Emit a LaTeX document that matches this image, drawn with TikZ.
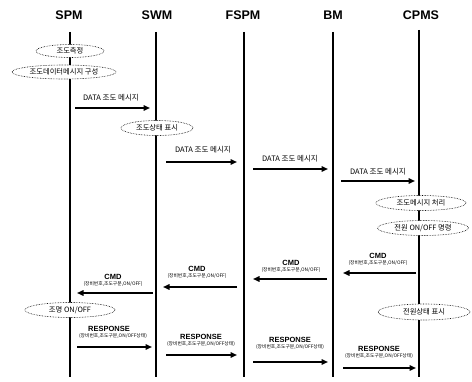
\documentclass[tikz,border=0pt]{standalone}
\usepackage{fontspec}
\setmainfont{Noto Sans CJK KR}
\newfontfamily\hdrfont{Liberation Sans}
\usetikzlibrary{shapes.geometric,arrows.meta}
\begin{document}
\begin{tikzpicture}[x=1pt,y=-1pt,
  hdr/.style={font=\hdrfont\bfseries\fontsize{12.5}{13}\selectfont,inner sep=0pt},
  life/.style={line width=2.3pt},
  evt/.style={ellipse,draw,densely dotted,line width=0.6pt,fill=white,inner sep=0pt,font=\fontsize{7.3}{8}\selectfont},
  msg/.style={line width=1.5pt,-{Triangle[length=6.5pt,width=5.5pt]}},
  lbl/.style={font=\fontsize{7.5}{8}\selectfont,inner sep=0pt},
  big/.style={font=\hdrfont\bfseries\fontsize{7.5}{8}\selectfont,inner sep=0pt},
  sub/.style={font=\fontsize{4.8}{5}\selectfont,inner sep=0pt}]
\useasboundingbox (0,0) rectangle (472,382);
% headers
\node[hdr] (spm) at (69,15) {SPM};
\node[hdr] (swm) at (157,15) {SWM};
\node[hdr] (fspm) at (243,15) {FSPM};
\node[hdr] (bm) at (333,15) {BM};
\node[hdr] (cpms) at (421,15) {CPMS};
% lifelines
\coordinate (spmT) at (70,32);  \coordinate (spmB) at (70,377);
\coordinate (swmT) at (156,32); \coordinate (swmB) at (156,377);
\coordinate (fspmT) at (244,32); \coordinate (fspmB) at (244,377);
\coordinate (bmT) at (333,32);  \coordinate (bmB) at (333,377);
\coordinate (cpmsT) at (419,30); \coordinate (cpmsB) at (419,377);
\draw[life] (spmT) -- (spmB);
\draw[life] (swmT) -- (swmB);
\draw[life] (fspmT) -- (fspmB);
\draw[life] (bmT) -- (bmB);
\draw[life] (cpmsT) -- (cpmsB);
% events
\node[evt,minimum width=68,minimum height=13] (e1) at (70,51) {조도측정};
\node[evt,minimum width=104,minimum height=14] (e2) at (64,72) {조도데이터메시지 구성};
\node[evt,minimum width=72,minimum height=15] (e3) at (157,128) {조도상태 표시};
\node[evt,minimum width=90,minimum height=15] (e4) at (421,203) {조도메시지 처리};
\node[evt,minimum width=91,minimum height=15] (e5) at (423,228) {전원 ON/OFF 명령};
\node[evt,minimum width=90,minimum height=15] (e6) at (70,310) {조명 ON/OFF};
\node[evt,minimum width=92,minimum height=16] (e7) at (424,312) {전원상태 표시};
% DATA messages
\coordinate (d1a) at (75,108);  \coordinate (d1b) at (150,108);
\coordinate (d2a) at (166,162); \coordinate (d2b) at (237,162);
\coordinate (d3a) at (253,169); \coordinate (d3b) at (328,169);
\coordinate (d4a) at (341,181); \coordinate (d4b) at (415,181);
\draw[msg] (d1a) -- (d1b);
\draw[msg] (d2a) -- (d2b);
\draw[msg] (d3a) -- (d3b);
\draw[msg] (d4a) -- (d4b);
\node[lbl] (l1) at (111,98) {DATA 조도 메시지};
\node[lbl] (l2) at (203,150) {DATA 조도 메시지};
\node[lbl] (l3) at (290,159) {DATA 조도 메시지};
\node[lbl] (l4) at (378,172) {DATA 조도 메시지};
% CMD messages
\coordinate (c1a) at (416,273); \coordinate (c1b) at (343,273);
\coordinate (c2a) at (327,279); \coordinate (c2b) at (253,279);
\coordinate (c3a) at (237,287); \coordinate (c3b) at (163,287);
\coordinate (c4a) at (153,293); \coordinate (c4b) at (77,293);
\draw[msg] (c1a) -- (c1b);
\draw[msg] (c2a) -- (c2b);
\draw[msg] (c3a) -- (c3b);
\draw[msg] (c4a) -- (c4b);
\node[big] (k1) at (378,256) {CMD};
\node[sub] (s1) at (378,263) {(장비번호,조도구분,ON/OFF)};
\node[big] (k2) at (291,263) {CMD};
\node[sub] (s2) at (291,270) {(장비번호,조도구분,ON/OFF)};
\node[big] (k3) at (197,269) {CMD};
\node[sub] (s3) at (197,276) {(장비번호,조도구분,ON/OFF)};
\node[big] (k4) at (113,277) {CMD};
\node[sub] (s4) at (113,284) {(장비번호,조도구분,ON/OFF)};
% RESPONSE messages
\coordinate (r1a) at (77,347);  \coordinate (r1b) at (152,347);
\coordinate (r2a) at (166,355); \coordinate (r2b) at (237,355);
\coordinate (r3a) at (253,362); \coordinate (r3b) at (328,362);
\coordinate (r4a) at (343,368); \coordinate (r4b) at (416,368);
\draw[msg] (r1a) -- (r1b);
\draw[msg] (r2a) -- (r2b);
\draw[msg] (r3a) -- (r3b);
\draw[msg] (r4a) -- (r4b);
\node[big] (p1) at (109,329) {RESPONSE};
\node[sub] (q1) at (113,336) {(장비번호,조도구분,ON/OFF상태)};
\node[big] (p2) at (201,337) {RESPONSE};
\node[sub] (q2) at (201,344) {(장비번호,조도구분,ON/OFF상태)};
\node[big] (p3) at (290,340) {RESPONSE};
\node[sub] (q3) at (290,347) {(장비번호,조도구분,ON/OFF상태)};
\node[big] (p4) at (379,349) {RESPONSE};
\node[sub] (q4) at (379,356) {(장비번호,조도구분,ON/OFF상태)};
\end{tikzpicture}
\end{document}
